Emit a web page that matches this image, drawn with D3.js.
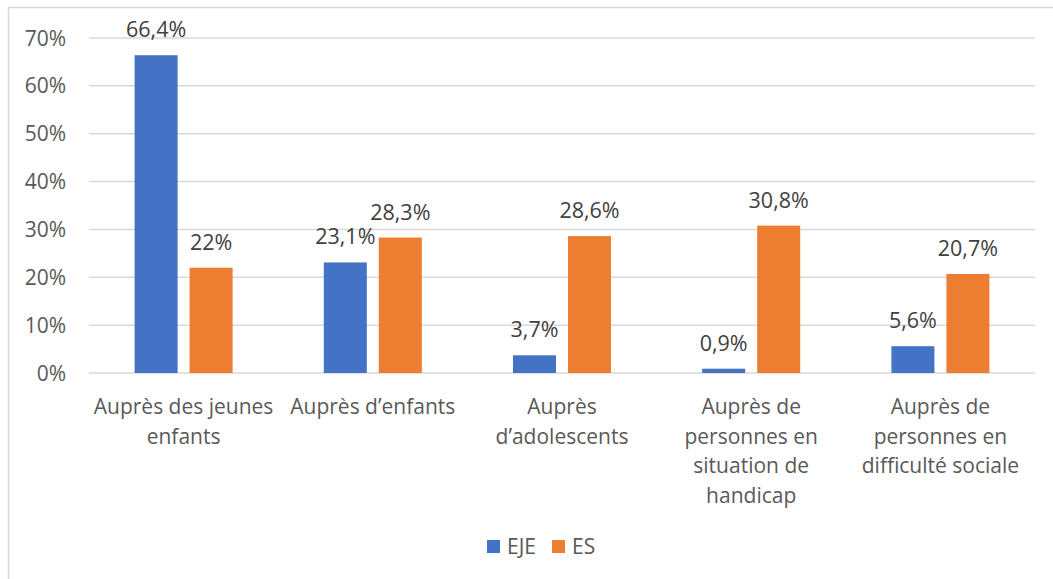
<html>
<head>
  <meta charset="utf-8">
  <title>EJE / ES</title>
  <script src="https://cdnjs.cloudflare.com/ajax/libs/d3/7.8.5/d3.min.js"></script>
  <style>
    body { margin: 0; background: #fff; }
    text { font-family: "Open Sans", sans-serif; }
  </style>
</head>
<body>
  <svg></svg>
  <script>
var categories = [
  "Auprès des jeunes\nenfants",
  "Auprès d’enfants",
  "Auprès\nd’adolescents",
  "Auprès de\npersonnes en\nsituation de\nhandicap",
  "Auprès de\npersonnes en\ndifficulté sociale"
];
var seriesNames = ["EJE", "ES"];
var eje = [66.4, 23.1, 3.7, 0.9, 5.6];
var es = [22, 28.3, 28.6, 30.8, 20.7];
var esLabels = ["22%", "28,3%", "28,6%", "30,8%", "20,7%"];
var ejeLabels = ["66,4%", "23,1%", "3,7%", "0,9%", "5,6%"];
var yTicks = [0, 10, 20, 30, 40, 50, 60, 70];
var colors = ["#4472c4", "#ed7d31"];

var w = 1053, h = 579;
var svg = d3.select("svg").attr("width", w).attr("height", h);

// chart border
svg.append("rect")
  .attr("x", 8.5).attr("y", 7.5)
  .attr("width", w).attr("height", h)
  .attr("fill", "none").attr("stroke", "#d9d9d9").attr("stroke-width", 1.5);

var margin = {left: 89, right: 18, top: 38, bottom: 206};

var x0 = d3.scaleBand()
  .domain(d3.range(categories.length))
  .range([margin.left, w - margin.right])
  .paddingInner(0.482).paddingOuter(0.241);

var x1 = d3.scaleBand()
  .domain(seriesNames)
  .range([0, x0.bandwidth()])
  .paddingInner(0.218);

var y = d3.scaleLinear()
  .domain([0, 70])
  .range([h - margin.bottom, margin.top]);

// gridlines
svg.append("g").selectAll("line")
  .data(yTicks).enter().append("line")
  .attr("x1", margin.left).attr("x2", w - margin.right)
  .attr("y1", function(d) { return y(d); })
  .attr("y2", function(d) { return y(d); })
  .attr("stroke", "#d9d9d9").attr("stroke-width", 1.5);

// y tick labels
svg.append("g").selectAll("text")
  .data(yTicks).enter().append("text")
  .attr("x", 66)
  .attr("y", function(d) { return y(d); })
  .attr("dy", "0.36em")
  .attr("text-anchor", "end")
  .attr("font-size", 21)
  .attr("fill", "#595959")
  .text(function(d) { return d + "%"; });

var series = [eje, es];
var labels = [ejeLabels, esLabels];

series.forEach(function(vals, s) {
  var g = svg.append("g");
  g.selectAll("rect")
    .data(vals).enter().append("rect")
    .attr("x", function(d, i) { return x0(i) + x1(seriesNames[s]); })
    .attr("y", function(d) { return y(d); })
    .attr("width", x1.bandwidth())
    .attr("height", function(d) { return y(0) - y(d); })
    .attr("fill", colors[s]);
  g.selectAll("text")
    .data(vals).enter().append("text")
    .attr("x", function(d, i) { return x0(i) + x1(seriesNames[s]) + x1.bandwidth() / 2; })
    .attr("y", function(d) { return y(d) - 18; })
    .attr("text-anchor", "middle")
    .attr("font-size", 21.5)
    .attr("fill", "#404040")
    .text(function(d, i) { return labels[s][i]; });
});

// category labels
var cat = svg.append("g").selectAll("text")
  .data(categories).enter().append("text")
  .attr("x", function(d, i) { return x0(i) + x0.bandwidth() / 2; })
  .attr("y", 414)
  .attr("text-anchor", "middle")
  .attr("font-size", 21)
  .attr("fill", "#595959");
cat.each(function(d) {
  var t = d3.select(this);
  d.split("\n").forEach(function(line, k) {
    t.append("tspan")
      .attr("x", t.attr("x"))
      .attr("dy", k === 0 ? 0 : 29.5)
      .text(line);
  });
});

// legend
var legend = svg.append("g").attr("transform", "translate(487,540)");
var lx = [0, 65];
seriesNames.forEach(function(n, s) {
  legend.append("rect")
    .attr("x", lx[s]).attr("y", 0)
    .attr("width", 13).attr("height", 13)
    .attr("fill", colors[s]);
  legend.append("text")
    .attr("x", lx[s] + 20).attr("y", 6.5)
    .attr("dy", "0.36em")
    .attr("font-size", 21)
    .attr("fill", "#595959")
    .text(n);
});
  </script>
</body>
</html>
